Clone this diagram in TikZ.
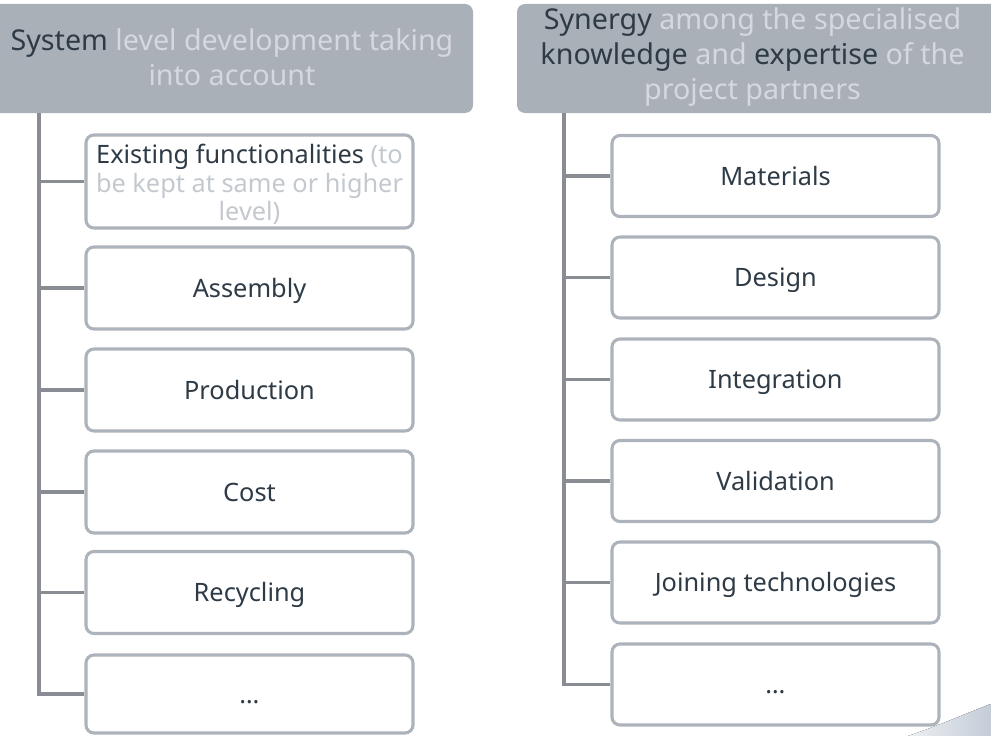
\documentclass[tikz,border=0pt]{standalone}
\usepackage{fontspec}
\setmainfont{Noto Sans}
\usetikzlibrary{calc}
\definecolor{headfill}{HTML}{AAB0B8}
\definecolor{darktext}{HTML}{2E3B46}
\definecolor{lighttext}{HTML}{D5D9DE}
\definecolor{palenote}{HTML}{C4C9CF}
\definecolor{boxline}{HTML}{ADB3BB}
\definecolor{trunk}{HTML}{898D93}
\definecolor{swooshA}{HTML}{EEF1F4}
\definecolor{swooshB}{HTML}{C3CBD6}
\tikzset{
  x=0.75pt, y=-0.75pt,
  headshape/.style={fill=headfill, draw=none, rounded corners=6pt, inner sep=0pt},
  headtext/.style={align=center, inner sep=0pt, text=lighttext,
    font=\fontsize{21.5}{26.2}\selectfont},
  itembox/.style={draw=boxline, line width=2.3pt, rounded corners=6pt, fill=white,
    minimum width=245.25pt, minimum height=61.5pt, inner sep=0pt, align=center,
    text=darktext, font=\fontsize{19}{23.25}\selectfont},
  oneline/.style={itembox, text height=13.6pt, text depth=0pt},
  notetext/.style={align=center, inner sep=0pt, text=darktext,
    font=\fontsize{19}{21.6}\selectfont},
  conn/.style={draw=trunk, line width=2.3pt},
}
\begin{document}
\begin{tikzpicture}
\useasboundingbox (0,0) rectangle (991,735);
\clip (0,0) rectangle (991,735);

% header bars
\node[headshape, minimum width=361.5pt, minimum height=81.75pt] (lhead) at (232,58.5) {};
\node[headshape, minimum width=375pt, minimum height=81.75pt] (rhead) at (767,58.5) {};
\node[headtext] (ltitle) at (232,57) {\textcolor{darktext}{System} level development taking\\into account};
\node[headtext] (rtitle) at (752.5,57) {\textcolor{darktext}{Synergy} among the specialised\\\textcolor{darktext}{knowledge} and \textcolor{darktext}{expertise} of the\\project partners};

% trunk tops
\coordinate (ltop) at (39,113);
\coordinate (rtop) at (564,113);

% left column
\node[itembox, minimum height=69.75pt] (l1) at (249.5,181.5) {};
\node[notetext] (l1text) at (249.5,184.5) {Existing functionalities \textcolor{palenote}{(to}\\\textcolor{palenote}{be kept at same or higher}\\\textcolor{palenote}{level)}};
\node[oneline] (l2) at (249.5,288) {Assembly};
\node[oneline] (l3) at (249.5,390) {Production};
\node[oneline] (l4) at (249.5,492) {Cost};
\node[oneline] (l5) at (249.5,592.5) {Recycling};
\node[oneline, minimum height=58.5pt] (l6) at (249.5,694) {…};

% right column
\node[oneline, minimum height=60.75pt] (r1) at (775.5,176) {Materials};
\node[oneline, minimum height=60.75pt] (r2) at (775.5,277.5) {Design};
\node[oneline, minimum height=60.75pt] (r3) at (775.5,379.5) {Integration};
\node[oneline, minimum height=60.75pt] (r4) at (775.5,481) {Validation};
\node[oneline, minimum height=60.75pt] (r5) at (775.5,582.5) {Joining technologies};
\node[oneline, minimum height=60.75pt] (r6) at (775.5,684.5) {…};

% connectors
\draw[conn] (ltop) |- (l6.west);
\foreach \n in {l1,l2,l3,l4,l5} \draw[conn] (\n.west -| ltop) -- (\n.west);
\draw[conn] (rtop) |- (r6.west);
\foreach \n in {r1,r2,r3,r4,r5} \draw[conn] (\n.west -| rtop) -- (\n.west);

% corner swoosh
\fill[left color=swooshA, right color=swooshB] (905,737) .. controls (935,727) and (960,716) .. (993,703) -- (993,737) -- cycle;
\end{tikzpicture}
\end{document}
